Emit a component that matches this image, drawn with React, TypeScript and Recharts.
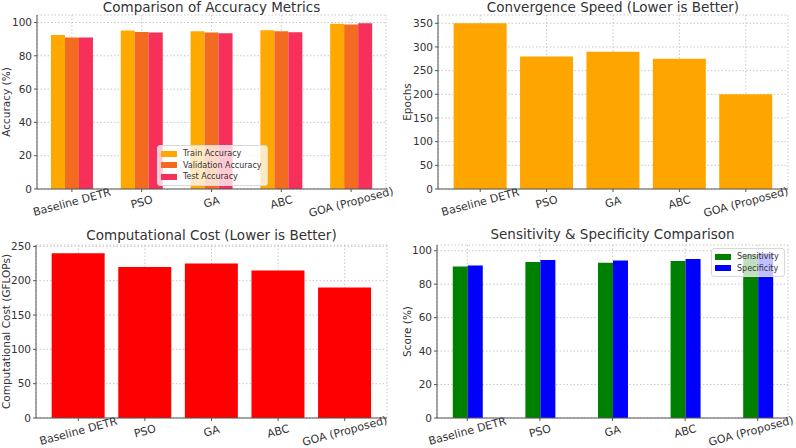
import React from 'react';
import {
  BarChart,
  Bar,
  XAxis,
  YAxis,
  CartesianGrid,
  Legend,
} from 'recharts';

// Dados
const metodos = ['Baseline DETR', 'PSO', 'GA', 'ABC', 'GOA (Proposed)'];

const trainAccuracy = [92.5, 95.2, 94.8, 95.3, 99.2];
const validationAccuracy = [91.0, 94.3, 94.0, 94.7, 98.8];
const testAccuracy = [91.0, 94.0, 93.5, 94.2, 99.5];

const epochs = [350, 280, 290, 275, 200];

const gflops = [240, 220, 225, 215, 190];

const sensitivity = [90.5, 93.3, 92.8, 93.8, 97.8];
const specificity = [91.2, 94.5, 94.2, 95.0, 98.5];

const accTicks = [0, 20, 40, 60, 80, 100];
const epochTicks = [0, 50, 100, 150, 200, 250, 300, 350];
const costTicks = [0, 50, 100, 150, 200, 250];

const dadosAcuracia = metodos.map((m, i) => ({
  metodo: m,
  train: trainAccuracy[i],
  val: validationAccuracy[i],
  test: testAccuracy[i],
}));
const dadosEpocas = metodos.map((m, i) => ({ metodo: m, epochs: epochs[i] }));
const dadosCusto = metodos.map((m, i) => ({ metodo: m, gflops: gflops[i] }));
const dadosSens = metodos.map((m, i) => ({
  metodo: m,
  sens: sensitivity[i],
  spec: specificity[i],
}));

const FONTE = '"DejaVu Sans", sans-serif';
const CINZA_EIXO = '#555555';
const CINZA_TEXTO = '#333333';

const TickRotacionado = ({ x, y, payload, limite }: any) => (
  <g transform={`translate(${Math.min(x, limite ?? 9999)},${y + 8})`}>
    <text
      x={0}
      y={0}
      dy="0.35em"
      textAnchor="middle"
      transform="rotate(-15)"
      fill={CINZA_TEXTO}
      fontSize={11}
      fontFamily={FONTE}
    >
      {payload.value}
    </text>
  </g>
);

const LegendaCaixa = ({ itens }: { itens: { nome: string; cor: string }[] }) => (
  <div
    style={{
      background: 'rgba(255,255,255,0.75)',
      border: '1px solid #d8d8d8',
      borderRadius: 3,
      padding: '2px 5px 2px 3px',
      fontFamily: FONTE,
      fontSize: 8,
      color: CINZA_TEXTO,
    }}
  >
    {itens.map((it) => (
      <div key={it.nome} style={{ display: 'flex', alignItems: 'center', height: 11.5 }}>
        <span
          style={{ width: 16, height: 6, background: it.cor, marginRight: 6, display: 'inline-block' }}
        />
        <span>{it.nome}</span>
      </div>
    ))}
  </div>
);

const Titulo = ({ texto, left, top, width }: any) => (
  <div
    style={{
      position: 'absolute',
      left,
      top,
      width,
      textAlign: 'center',
      fontFamily: FONTE,
      fontSize: 13.5,
      lineHeight: '15px',
      color: CINZA_TEXTO,
      whiteSpace: 'nowrap',
    }}
  >
    {texto}
  </div>
);

const eixoX = (padding: any, limite?: number) => (
  <XAxis
    dataKey="metodo"
    interval={0}
    height={35}
    tickSize={3}
    tickMargin={2}
    padding={padding}
    tick={<TickRotacionado limite={limite} />}
    axisLine={{ stroke: CINZA_EIXO }}
    tickLine={{ stroke: CINZA_EIXO }}
  />
);

const eixoY = (largura: number, dominio: number[], ticks: number[], rotulo: string, dx: number) => (
  <YAxis
    width={largura}
    domain={dominio}
    ticks={ticks}
    allowDataOverflow
    tickSize={3}
    tickMargin={2}
    tick={{ fill: CINZA_TEXTO, fontSize: 10.5, fontFamily: FONTE }}
    axisLine={{ stroke: CINZA_EIXO }}
    tickLine={{ stroke: CINZA_EIXO }}
    label={{
      value: rotulo,
      angle: -90,
      position: 'center',
      dx,
      style: { fill: CINZA_TEXTO, fontSize: 10.5, fontFamily: FONTE, textAnchor: 'middle' },
    }}
  />
);

const grade = <CartesianGrid stroke="#c8c8c8" strokeDasharray="1.5 2" />;

export default function App() {
  return (
    <div
      style={{
        position: 'absolute',
        left: 0,
        top: 0,
        width: 796,
        height: 448,
        background: '#ffffff',
        overflow: 'hidden',
      }}
    >
      {/* Acurácia */}
      <div style={{ position: 'absolute', left: 0, top: 0 }}>
        <BarChart
          width={398}
          height={224}
          data={dadosAcuracia}
          margin={{ top: 15, right: 12, left: 0, bottom: 0 }}
          barCategoryGap="20%"
          barGap={0}
        >
          {grade}
          {eixoX({ left: 0, right: 0 })}
          {eixoY(37, [0, 104.5], accTicks, 'Accuracy (%)', -12.5)}
          <Legend
            layout="vertical"
            align="center"
            verticalAlign="middle"
            wrapperStyle={{ left: 157, top: 145, width: 'auto' }}
            content={() => (
              <LegendaCaixa
                itens={[
                  { nome: 'Train Accuracy', cor: '#FFA800' },
                  { nome: 'Validation Accuracy', cor: '#F36B21' },
                  { nome: 'Test Accuracy', cor: '#F62F5B' },
                ]}
              />
            )}
          />
          <Bar dataKey="train" fill="#FFA800" isAnimationActive={false} />
          <Bar dataKey="val" fill="#F36B21" isAnimationActive={false} />
          <Bar dataKey="test" fill="#F62F5B" isAnimationActive={false} />
        </BarChart>
      </div>
      <Titulo texto="Comparison of Accuracy Metrics" left={37} top={0} width={349} />

      {/* Épocas */}
      <div style={{ position: 'absolute', left: 396, top: 0 }}>
        <BarChart
          width={400}
          height={224}
          data={dadosEpocas}
          margin={{ top: 15, right: 8, left: 0, bottom: 0 }}
          barCategoryGap="10%"
        >
          {grade}
          {eixoX({ left: 9, right: 9 })}
          {eixoY(42, [0, 367.5], epochTicks, 'Epochs', -10)}
          <Bar dataKey="epochs" fill="#FFA500" isAnimationActive={false} />
        </BarChart>
      </div>
      <Titulo texto="Convergence Speed (Lower is Better)" left={438} top={0} width={350} />

      {/* Custo */}
      <div style={{ position: 'absolute', left: 0, top: 224 }}>
        <BarChart
          width={398}
          height={224}
          data={dadosCusto}
          margin={{ top: 21, right: 11, left: 0, bottom: -5 }}
          barCategoryGap="10%"
        >
          {grade}
          {eixoX({ left: 9, right: 9 })}
          {eixoY(36, [0, 252], costTicks, 'Computational Cost (GFLOPs)', -12)}
          <Bar dataKey="gflops" fill="#FF0000" isAnimationActive={false} />
        </BarChart>
      </div>
      <Titulo texto="Computational Cost (Lower is Better)" left={36} top={228} width={351} />

      {/* Sensibilidade e especificidade */}
      <div style={{ position: 'absolute', left: 396, top: 224 }}>
        <BarChart
          width={400}
          height={224}
          data={dadosSens}
          margin={{ top: 21, right: 8, left: 0, bottom: -5 }}
          barCategoryGap="30%"
          barGap={0}
        >
          {grade}
          {eixoX({ left: -6, right: -6 }, 355)}
          {eixoY(41, [0, 103.4], accTicks, 'Score (%)', -9)}
          <Legend
            layout="vertical"
            align="center"
            verticalAlign="middle"
            wrapperStyle={{ left: 315, top: 24, width: 'auto' }}
            content={() => (
              <LegendaCaixa
                itens={[
                  { nome: 'Sensitivity', cor: '#008000' },
                  { nome: 'Specificity', cor: '#0000FF' },
                ]}
              />
            )}
          />
          <Bar dataKey="sens" fill="#008000" isAnimationActive={false} />
          <Bar dataKey="spec" fill="#0000FF" isAnimationActive={false} />
        </BarChart>
      </div>
      <Titulo texto="Sensitivity & Specificity Comparison" left={437} top={227} width={351} />
    </div>
  );
}
